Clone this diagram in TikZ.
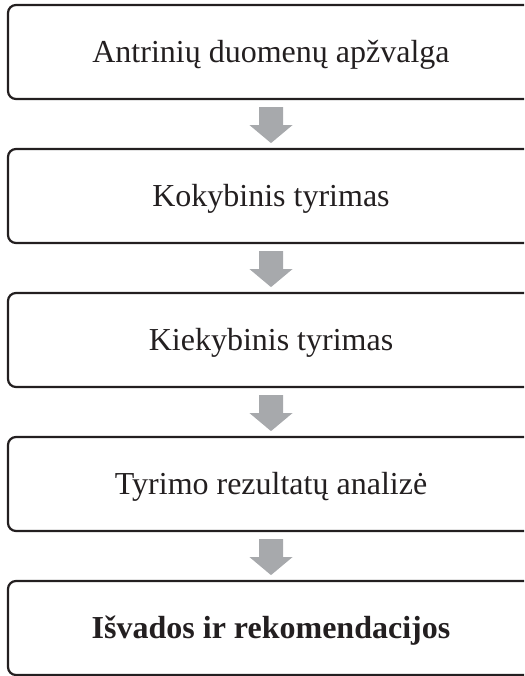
\documentclass[tikz,border=0pt]{standalone}
\usepackage{fontspec}
\setmainfont{Liberation Serif}
\usetikzlibrary{calc}
\definecolor{boxline}{HTML}{231F20}
\definecolor{arrowgray}{HTML}{A7A9AC}
\tikzset{
  stagebox/.style={draw=boxline, line width=2.2pt, rounded corners=8pt,
    minimum width=526pt, minimum height=94pt, inner sep=0pt,
    text height=21pt, text depth=0pt, text=boxline,
    font=\fontsize{32}{38}\selectfont},
  flowarrow/.style={fill=arrowgray, draw=none}
}
\newcommand{\downarrowshape}[2]{%
  \fill[flowarrow] ($(#1.south)+(-12pt,-7pt)$) -- ($(#1.south)+(12pt,-7pt)$)
    -- ($(#1.south)+(12pt,-25pt)$) -- ($(#1.south)+(21.5pt,-25pt)$)
    -- ($(#1.south)+(0pt,-43pt)$) -- ($(#1.south)+(-21.5pt,-25pt)$)
    -- ($(#1.south)+(-12pt,-25pt)$) -- cycle;}
\begin{document}
\begin{tikzpicture}[x=1pt,y=1pt]
\useasboundingbox (0,0) rectangle (524,-676);
\clip (0,0) rectangle (524,-676);
\node[stagebox] (b1) at (271,-52) {Antrinių duomenų apžvalga};
\node[stagebox] (b2) at (271,-196) {Kokybinis tyrimas};
\node[stagebox] (b3) at (271,-340) {Kiekybinis tyrimas};
\node[stagebox] (b4) at (271,-484) {Tyrimo rezultatų analizė};
\node[stagebox] (b5) at (271,-628) {\bfseries Išvados ir rekomendacijos};
\downarrowshape{b1}{b2}
\downarrowshape{b2}{b3}
\downarrowshape{b3}{b4}
\downarrowshape{b4}{b5}
\end{tikzpicture}
\end{document}
